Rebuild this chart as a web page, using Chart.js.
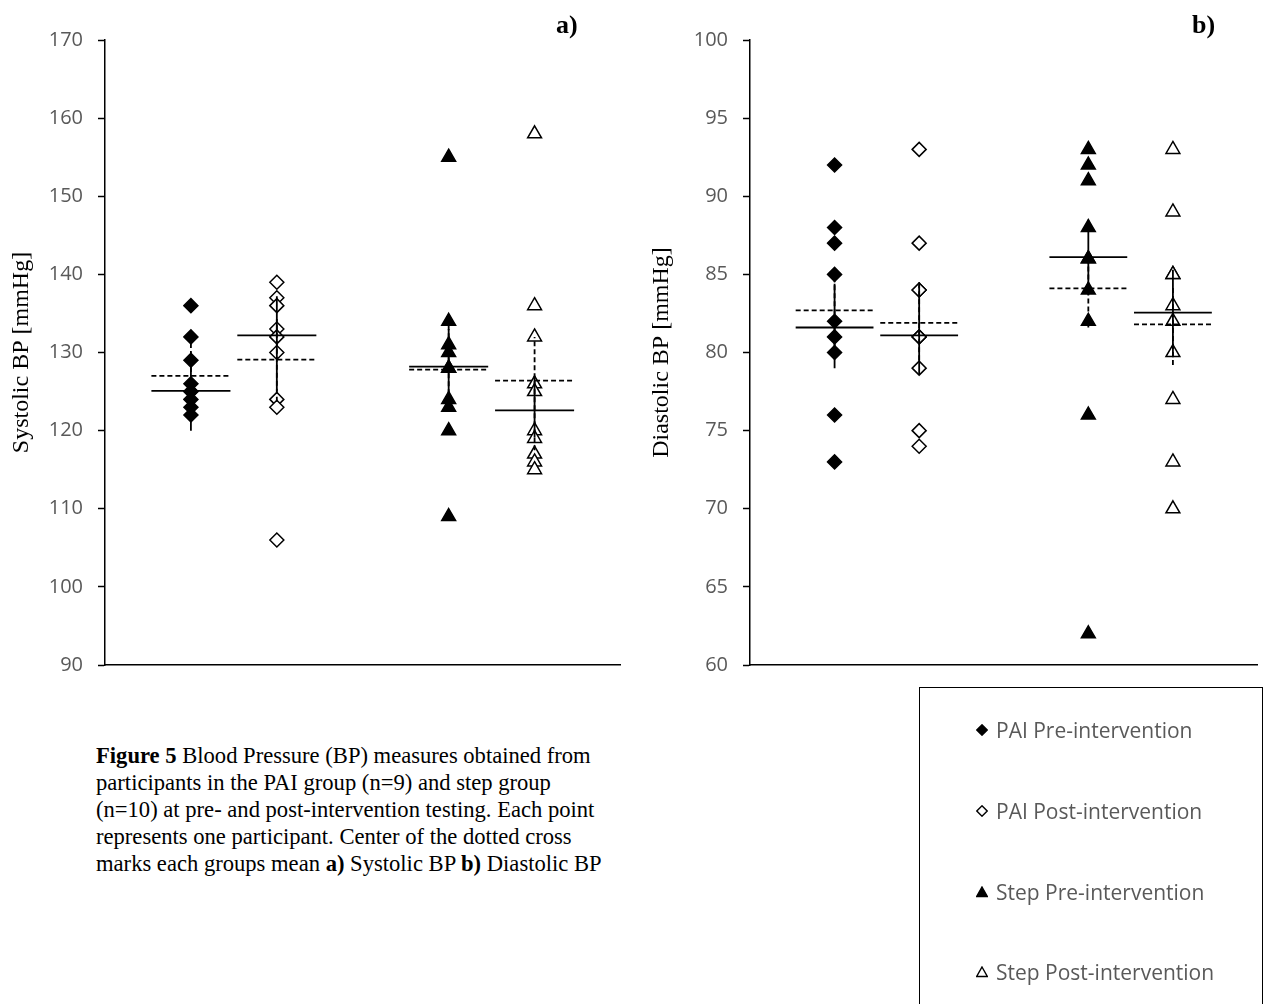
<!DOCTYPE html>
<html>
<head>
<meta charset="utf-8">
<script src="https://cdn.jsdelivr.net/npm/chart.js@4"></script>
<style>
    body { margin: 0; background: #fff; width: 1267px; height: 1004px; position: relative; overflow: hidden; }
    #systolic-chart { position: absolute; left: 0; top: 0; }
    #diastolic-chart { position: absolute; left: 640px; top: 0; }
    .panel-label { position: absolute; top: 10px; font: bold 26px "Liberation Serif", serif; color: #000; }
    #caption { position: absolute; left: 96px; top: 742px; font: 22.6px/27px "Liberation Serif", serif; color: #000; white-space: nowrap; }
    #legend { position: absolute; left: 919px; top: 687px; width: 344px; height: 340px; border: 1px solid #000; box-sizing: border-box; }
    .legend-item { position: absolute; left: 56px; height: 26px; display: flex; align-items: center; font: 21px "Open Sans", sans-serif; color: #595959; }
    .legend-item svg { margin-right: 8px; }
</style>
</head>
<body>
<canvas id="systolic-chart" width="630" height="692"></canvas>
<canvas id="diastolic-chart" width="627" height="692"></canvas>
<div class="panel-label" style="left:556px">a)</div>
<div class="panel-label" style="left:1192px">b)</div>
<div id="caption">
    <b>Figure 5</b> Blood Pressure (BP) measures obtained from<br>
    participants in the PAI group (n=9) and step group<br>
    (n=10) at pre- and post-intervention testing. Each point<br>
    represents one participant. Center of the dotted cross<br>
    marks each groups mean <b>a)</b> Systolic BP <b>b)</b> Diastolic BP
</div>
<div id="legend"></div>

<script>
const groupLabels = ['PAI Pre-intervention', 'PAI Post-intervention', 'Step Pre-intervention', 'Step Post-intervention'];
const groupX = [1, 2, 4, 5];

// systolic, one array per group
const systolicPaiPre = [136, 132, 129, 126, 125, 125, 124, 123, 122];
const systolicPaiPost = [139, 137, 136, 133, 132, 130, 124, 123, 106];
const systolicStepPre = [155, 134, 131, 130, 128, 128, 124, 123, 120, 109];
const systolicStepPost = [158, 136, 132, 126, 125, 120, 119, 117, 116, 115];
const systolicMedian = [125.1, 132.2, 128.2, 122.6];
const systolicMean = [127.0, 129.1, 127.8, 126.4];
const systolicMedianLow = [120.0, 125.0, 122.5, 119.2];
const systolicMedianHigh = [130.0, 137.2, 133.4, 127.0];
const systolicMeanLow = [122.4, 123.7, 122.6, 117.5];
const systolicMeanHigh = [131.3, 134.3, 133.0, 132.0];
const systolicTicks = [90, 170, 10];

// diastolic
const diastolicPaiPre = [92, 88, 87, 85, 82, 81, 80, 76, 73];
const diastolicPaiPost = [93, 87, 84, 84, 81, 81, 79, 75, 74];
const diastolicStepPre = [93, 92, 91, 88, 86, 86, 84, 82, 76, 62];
const diastolicStepPost = [93, 89, 85, 85, 83, 82, 80, 77, 73, 70];
const diastolicMedian = [81.6, 81.1, 86.1, 82.55];
const diastolicMean = [82.7, 81.9, 84.1, 81.8];
const diastolicMedianLow = [79.0, 78.6, 83.7, 79.7];
const diastolicMedianHigh = [84.4, 84.5, 88.5, 85.3];
const diastolicMeanLow = [80.4, 79.5, 81.6, 79.2];
const diastolicMeanHigh = [85.0, 84.3, 86.4, 84.2];
const diastolicTicks = [60, 100, 5];

const crossHalfWidth = 0.46;
const markers = [
    { pointStyle: 'rectRot', radius: 7, fill: '#000' },
    { pointStyle: 'rectRot', radius: 7, fill: '#fff' },
    { pointStyle: 'triangle', radius: 8, fill: '#000' },
    { pointStyle: 'triangle', radius: 8, fill: '#fff' }
];

function lineSet(points, dashed) {
    return {
        data: points.map(p => ({ x: p[0], y: p[1] })),
        showLine: true,
        borderColor: '#000',
        borderWidth: 1.8,
        borderDash: dashed ? [5, 3] : [],
        pointRadius: 0,
        pointHoverRadius: 0
    };
}

function buildDatasets(groups, medians, means, medLow, medHigh, meanLow, meanHigh) {
    const sets = [];
    // lines first so they sit on top of the markers
    groupX.forEach((x, i) => {
        sets.push(lineSet([[x - crossHalfWidth, means[i]], [x + crossHalfWidth, means[i]]], true));
        sets.push(lineSet([[x, meanLow[i]], [x, meanHigh[i]]], true));
        sets.push(lineSet([[x - crossHalfWidth, medians[i]], [x + crossHalfWidth, medians[i]]], false));
        sets.push(lineSet([[x, medLow[i]], [x, medHigh[i]]], false));
    });
    groups.forEach((values, i) => {
        const m = markers[i];
        sets.push({
            label: groupLabels[i],
            data: values.map(v => ({ x: groupX[i], y: v })),
            showLine: false,
            pointStyle: m.pointStyle,
            pointRadius: m.radius,
            pointHoverRadius: m.radius,
            backgroundColor: m.fill,
            borderColor: '#000',
            pointBorderWidth: 1.5
        });
    });
    return sets;
}

function makeChart(id, datasets, ticks, title, axisWidth, padRight) {
    return new Chart(document.getElementById(id), {
        type: 'scatter',
        data: { datasets },
        options: {
            responsive: false,
            animation: false,
            events: [],
            layout: { padding: { top: 40, bottom: 4, left: 0, right: padRight } },
            plugins: { legend: { display: false }, tooltip: { enabled: false } },
            scales: {
                x: {
                    type: 'linear', min: 0, max: 6,
                    ticks: { display: false },
                    grid: { display: false, drawTicks: false },
                    border: { display: true, color: '#000', width: 1.5 }
                },
                y: {
                    min: ticks[0], max: ticks[1],
                    ticks: {
                        stepSize: ticks[2],
                        color: '#595959',
                        padding: 15,
                        font: { family: 'Open Sans', size: 20 }
                    },
                    grid: { display: true, drawOnChartArea: false, drawTicks: true, tickLength: 7, color: '#000', tickWidth: 1.5 },
                    border: { display: true, color: '#000', width: 1.5 },
                    title: {
                        display: true,
                        text: title,
                        color: '#000',
                        padding: { top: 7, bottom: 0 },
                        font: { family: 'Liberation Serif', size: 24 }
                    },
                    afterFit(scale) { scale.width = axisWidth; }
                }
            }
        }
    });
}

makeChart('systolic-chart',
    buildDatasets([systolicPaiPre, systolicPaiPost, systolicStepPre, systolicStepPost],
        systolicMedian, systolicMean, systolicMedianLow, systolicMedianHigh, systolicMeanLow, systolicMeanHigh),
    systolicTicks, 'Systolic BP [mmHg]', 105, 9);

makeChart('diastolic-chart',
    buildDatasets([diastolicPaiPre, diastolicPaiPost, diastolicStepPre, diastolicStepPost],
        diastolicMedian, diastolicMean, diastolicMedianLow, diastolicMedianHigh, diastolicMeanLow, diastolicMeanHigh),
    diastolicTicks, 'Diastolic BP [mmHg]', 110, 1);

// legend box
const legendTops = [29, 110, 191, 271];
const legend = document.getElementById('legend');
groupLabels.forEach((label, i) => {
    const m = markers[i];
    const shape = m.pointStyle === 'rectRot'
        ? '<polygon points="6,0.8 11.2,6 6,11.2 0.8,6"/>'
        : '<polygon points="6,1 11.3,10.5 0.7,10.5"/>';
    const item = document.createElement('div');
    item.className = 'legend-item';
    item.style.top = legendTops[i] + 'px';
    item.innerHTML = '<svg width="12" height="12" viewBox="0 0 12 12"><g fill="' + m.fill +
        '" stroke="#000" stroke-width="1.4">' + shape + '</g></svg>' + label;
    legend.appendChild(item);
});
</script>
</body>
</html>
